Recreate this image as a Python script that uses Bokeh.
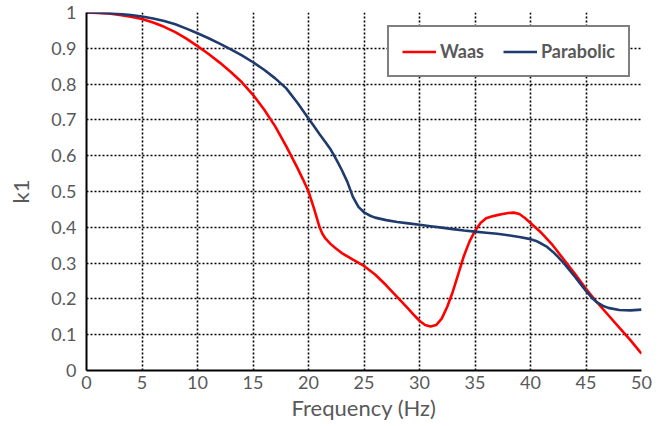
from bokeh.plotting import figure
from bokeh.models import FixedTicker, Range1d, Legend, LegendItem
from bokeh.embed import file_html
from bokeh.resources import INLINE

# Frequency (Hz) samples and k1 values
freq_waas = [0, 1, 2, 3, 4, 5, 6, 7, 8, 9, 10, 11, 12, 13, 14, 15, 16, 17, 18, 19, 19.5,
             20, 20.5, 21, 21.25, 21.5, 22, 22.5, 23, 24, 25, 26, 27, 28, 29, 29.5, 30,
             30.5, 31, 31.5, 32, 32.5, 33, 33.5, 34, 34.5, 35, 35.5, 36, 36.5, 37, 37.5,
             38, 38.5, 39, 39.5, 40, 40.5, 41, 42, 43, 44, 45, 46, 47, 48, 49, 50]
k1_waas = [1.000, 0.999, 0.997, 0.993, 0.988, 0.982, 0.972, 0.960, 0.945, 0.927, 0.906,
           0.884, 0.860, 0.834, 0.805, 0.770, 0.729, 0.682, 0.626, 0.566, 0.534,
           0.500, 0.452, 0.400, 0.382, 0.370, 0.353, 0.340, 0.328, 0.310, 0.292, 0.268,
           0.238, 0.205, 0.172, 0.155, 0.139, 0.127, 0.123, 0.127, 0.145, 0.178, 0.220,
           0.270, 0.320, 0.360, 0.390, 0.412, 0.425, 0.430, 0.434, 0.437, 0.440, 0.441,
           0.437, 0.426, 0.412, 0.398, 0.384, 0.350, 0.310, 0.270, 0.228, 0.190, 0.155,
           0.120, 0.085, 0.047]

freq_para = [0, 1, 2, 3, 4, 5, 6, 7, 8, 9, 10, 11, 12, 13, 14, 15, 16, 17, 18, 19, 20,
             20.5, 21, 21.5, 22, 22.5, 23, 23.5, 24, 24.5, 25, 25.5, 26, 27, 28, 29, 30,
             31, 32, 33, 34, 35, 36, 37, 38, 39, 40, 40.5, 41, 41.5, 42, 42.5, 43, 43.5,
             44, 44.5, 45, 45.5, 46, 46.5, 47, 48, 49, 50]
k1_para = [1.000, 0.9995, 0.998, 0.996, 0.993, 0.989, 0.983, 0.976, 0.967, 0.955, 0.942,
           0.928, 0.913, 0.897, 0.880, 0.861, 0.840, 0.816, 0.788, 0.748, 0.704,
           0.682, 0.660, 0.639, 0.617, 0.590, 0.560, 0.527, 0.485, 0.457, 0.442, 0.433,
           0.427, 0.420, 0.415, 0.411, 0.407, 0.403, 0.399, 0.395, 0.391, 0.388, 0.385,
           0.382, 0.378, 0.373, 0.367, 0.362, 0.354, 0.345, 0.332, 0.317, 0.300, 0.281,
           0.262, 0.242, 0.222, 0.204, 0.190, 0.181, 0.175, 0.169, 0.168, 0.170]

x_ticks = [0, 5, 10, 15, 20, 25, 30, 35, 40, 45, 50]
y_ticks = [0, 0.1, 0.2, 0.3, 0.4, 0.5, 0.6, 0.7, 0.8, 0.9, 1.0]
y_tick_labels = ["0", "0.1", "0.2", "0.3", "0.4", "0.5", "0.6", "0.7", "0.8", "0.9", "1"]

FONT = "Lato"
GRAY = "#595959"

p = figure(frame_width=555, frame_height=358, output_backend="svg", toolbar_location=None,
           x_range=Range1d(0, 50), y_range=Range1d(0, 1),
           min_border_left=86, min_border_right=25, min_border_top=12, min_border_bottom=56)
p.outline_line_color = None
p.background_fill_color = "white"
p.border_fill_color = "white"

for ax in (p.xaxis[0], p.yaxis[0]):
    ax.axis_line_color = "black"
    ax.axis_line_width = 2
    ax.major_tick_line_color = None
    ax.minor_tick_line_color = None
    ax.major_tick_in = 0
    ax.major_tick_out = 0
    ax.minor_tick_in = 0
    ax.minor_tick_out = 0
    ax.major_label_text_font = FONT
    ax.major_label_text_font_size = "18px"
    ax.major_label_text_color = GRAY
    ax.axis_label_text_font = FONT
    ax.axis_label_text_font_size = "22px"
    ax.axis_label_text_font_style = "normal"
    ax.axis_label_text_color = GRAY

p.xaxis.ticker = FixedTicker(ticks=x_ticks)
p.yaxis.ticker = FixedTicker(ticks=y_ticks)
p.yaxis.major_label_overrides = {t: l for t, l in zip(y_ticks, y_tick_labels)}
p.xaxis.major_label_overrides = {t: str(t) for t in x_ticks}
p.xaxis.axis_label = "Frequency (Hz)"
p.yaxis.axis_label = "k1"
p.xaxis.major_label_standoff = 5
p.yaxis.major_label_standoff = 10
p.xaxis.axis_label_standoff = 2
p.yaxis.axis_label_standoff = 14

for g in (p.xgrid[0], p.ygrid[0]):
    g.grid_line_color = "black"
    g.grid_line_width = 1.6
    g.grid_line_dash = "2 2"
    g.grid_line_alpha = 1.0

r_waas = p.line(freq_waas, k1_waas, line_color="#FF0000", line_width=2.6)
r_para = p.line(freq_para, k1_para, line_color="#1F3B6E", line_width=2.6)

legend = Legend(items=[LegendItem(label="Waas", renderers=[r_waas]),
                       LegendItem(label="Parabolic", renderers=[r_para])],
                orientation="horizontal", location=(301, 293))
legend.label_text_font = FONT
legend.label_text_font_size = "18px"
legend.label_text_font_style = "bold"
legend.label_text_color = GRAY
legend.border_line_color = "black"
legend.border_line_width = 2
legend.background_fill_color = "white"
legend.background_fill_alpha = 1
legend.glyph_width = 34
legend.glyph_height = 21
legend.label_height = 21
legend.label_standoff = 4
legend.spacing = 19
legend.padding = 13
legend.margin = 0
p.add_layout(legend, "center")

open("out.html", "w").write(file_html(p, INLINE))
